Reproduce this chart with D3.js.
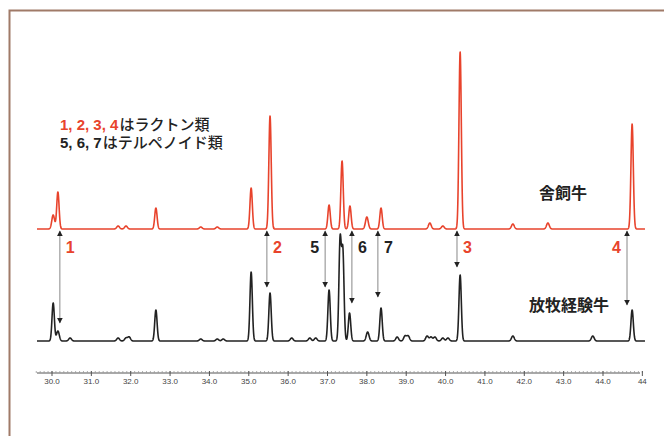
<!DOCTYPE html>
<html>
<head>
<meta charset="utf-8">
<script src="https://cdn.jsdelivr.net/npm/d3@7"></script>
<style>
  body { margin: 0; background: #fff; }
  svg { display: block; }
</style>
</head>
<body>
<div id="chart"></div>
<script>
// peaks: [retention time, height]
var redPeaks = [
  [30.03, 14], [30.15, 37], [31.68, 3], [31.88, 3], [32.64, 21],
  [33.78, 2], [34.2, 2], [35.06, 41], [35.54, 113], [37.04, 24],
  [37.37, 68], [37.57, 23], [38.0, 12], [38.36, 21], [39.6, 6],
  [39.93, 3], [40.37, 177], [41.71, 5], [42.6, 6], [44.74, 105]
];
var blackPeaks = [
  [30.03, 38], [30.15, 10], [30.46, 3], [31.68, 3], [31.88, 3], [31.96, 4],
  [32.64, 31], [33.78, 2], [34.2, 2], [34.35, 2], [35.06, 69], [35.54, 48],
  [36.09, 3], [36.55, 3], [36.7, 3], [37.04, 51], [37.32, 100], [37.39, 88],
  [37.56, 28], [38.02, 9], [38.36, 33], [38.77, 4], [38.97, 5], [39.05, 5],
  [39.53, 5], [39.63, 4], [39.73, 4], [39.93, 3], [40.06, 3], [40.37, 66],
  [41.71, 5], [43.74, 5], [44.74, 31]
];
var tickValues = [30, 31, 32, 33, 34, 35, 36, 37, 38, 39, 40, 41, 42, 43, 44, 45];
var tickLabels = ["30.0", "31.0", "32.0", "33.0", "34.0", "35.0", "36.0", "37.0",
                  "38.0", "39.0", "40.0", "41.0", "42.0", "43.0", "44.0", "44"];
// marked compounds: [label, retention time, arrow end in black trace, class]
var markers = [
  ["1", 30.2, 18, "lactone"], ["2", 35.46, 54, "lactone"], ["5", 36.94, 54, "terpene"],
  ["6", 37.62, 38, "terpene"], ["7", 38.28, 44, "terpene"], ["3", 40.29, 74, "lactone"],
  ["4", 44.61, 36, "lactone"]
];
var sampleNames = ["舎飼牛", "放牧経験牛"];
var noteLines = [
  {nums: "1, 2, 3, 4", color: "lactone", words: "はラクトン類"},
  {nums: "5, 6, 7", color: "terpene", words: "はテルペノイド類"}
];

var width = 664, height = 436;
var red = "#e8432c", dark = "#222";

var svg = d3.select("#chart").append("svg")
    .attr("width", width)
    .attr("height", height);

svg.append("rect")
    .attr("width", width).attr("height", height)
    .attr("fill", "#fff");

// frame
svg.append("rect")
    .attr("x", 9.5).attr("y", 10.5)
    .attr("width", 720).attr("height", 500)
    .attr("fill", "none")
    .attr("stroke", "#a07a68")
    .attr("stroke-width", 2);

var x = d3.scaleLinear().domain([30, 44]).range([52, 603]);
var yRed = d3.scaleLinear().domain([0, 180]).range([229, 49]);
var yBlack = d3.scaleLinear().domain([0, 180]).range([341, 161]);

// build trace by summing peak shapes
function trace(peaks) {
  var pts = [];
  var t0 = x.invert(37), t1 = x.invert(645);
  for (var t = t0; t <= t1; t += 0.004) {
    var v = 0;
    peaks.forEach(function(p) {
      var s = p[1] > 20 ? 0.03 : 0.035;
      v += p[1] * Math.exp(-Math.pow(t - p[0], 2) / (2 * s * s));
    });
    pts.push([t, v]);
  }
  return pts;
}

var lineRed = d3.line().x(function(d) { return x(d[0]); }).y(function(d) { return yRed(d[1]); });
var lineBlack = d3.line().x(function(d) { return x(d[0]); }).y(function(d) { return yBlack(d[1]); });

svg.append("path")
    .datum(trace(redPeaks))
    .attr("d", lineRed)
    .attr("fill", "none")
    .attr("stroke", red)
    .attr("stroke-width", 1.6)
    .attr("stroke-linejoin", "round");

svg.append("path")
    .datum(trace(blackPeaks))
    .attr("d", lineBlack)
    .attr("fill", "none")
    .attr("stroke", dark)
    .attr("stroke-width", 1.6)
    .attr("stroke-linejoin", "round");

// arrows
var defs = svg.append("defs");
defs.append("marker")
    .attr("id", "ah")
    .attr("viewBox", "0 0 10 10")
    .attr("refX", 9).attr("refY", 5)
    .attr("markerWidth", 6).attr("markerHeight", 6)
    .attr("markerUnits", "userSpaceOnUse")
    .attr("orient", "auto-start-reverse")
    .append("path")
    .attr("d", "M0,0L10,5L0,10z")
    .attr("fill", "#222");

var arrows = svg.append("g");
markers.forEach(function(m) {
  var ax = x(m[1]);
  arrows.append("line")
      .attr("x1", ax).attr("x2", ax)
      .attr("y1", yRed(0) + 2)
      .attr("y2", yBlack(m[2]))
      .attr("stroke", "#888")
      .attr("stroke-width", 1)
      .attr("marker-start", "url(#ah)")
      .attr("marker-end", "url(#ah)");
  var left = (m[0] === "5" || m[0] === "4");
  arrows.append("text")
      .attr("x", left ? ax - 6 : ax + 6)
      .attr("y", 253)
      .attr("text-anchor", left ? "end" : "start")
      .attr("font-family", "Liberation Sans, Arial, sans-serif")
      .attr("font-weight", 700)
      .attr("font-size", 16)
      .attr("fill", m[3] === "lactone" ? red : dark)
      .text(m[0]);
});

// x axis
var axisY = 373;
var axis = svg.append("g");
axis.append("line")
    .attr("x1", 37).attr("x2", 640)
    .attr("y1", axisY).attr("y2", axisY)
    .attr("stroke", "#555").attr("stroke-width", 1);
var minor = d3.range(296, 451).map(function(d) { return d / 10; });
axis.selectAll(".minor").data(minor).enter().append("line")
    .attr("x1", function(d) { return x(d); })
    .attr("x2", function(d) { return x(d); })
    .attr("y1", axisY - 2).attr("y2", axisY)
    .attr("stroke", "#999").attr("stroke-width", 0.8);
axis.selectAll(".major").data(tickValues).enter().append("line")
    .attr("x1", function(d) { return x(d); })
    .attr("x2", function(d) { return x(d); })
    .attr("y1", axisY - 2).attr("y2", axisY + 3)
    .attr("stroke", "#555").attr("stroke-width", 1);
axis.selectAll(".lab").data(tickValues).enter().append("text")
    .attr("x", function(d) { return x(d); })
    .attr("y", axisY + 11)
    .attr("text-anchor", "middle")
    .attr("font-family", "Liberation Sans Narrow, Liberation Sans, sans-serif")
    .attr("font-size", 8)
    .attr("fill", "#444")
    .text(function(d, i) { return tickLabels[i]; });

// sample names
var jp = "Noto Sans CJK JP, sans-serif";
svg.append("text")
    .attr("x", 563).attr("y", 199)
    .attr("text-anchor", "middle")
    .attr("font-family", jp).attr("font-weight", 700).attr("font-size", 16)
    .attr("fill", dark).text(sampleNames[0]);
svg.append("text")
    .attr("x", 569).attr("y", 311)
    .attr("text-anchor", "middle")
    .attr("font-family", jp).attr("font-weight", 700).attr("font-size", 16)
    .attr("fill", dark).text(sampleNames[1]);

// legend note, one text block with a line per class
var note = svg.append("text")
    .attr("x", 60).attr("y", 130)
    .attr("font-family", jp).attr("font-weight", 500).attr("font-size", 15);
noteLines.forEach(function(l, i) {
  note.append("tspan")
      .attr("x", 60).attr("dy", i === 0 ? 0 : 18)
      .attr("font-family", "Liberation Sans, Arial, sans-serif")
      .attr("font-weight", 700)
      .attr("fill", l.color === "lactone" ? red : dark)
      .text(l.nums);
  note.append("tspan")
      .attr("dx", 1)
      .attr("fill", dark)
      .text(l.words);
});
</script>
</body>
</html>
